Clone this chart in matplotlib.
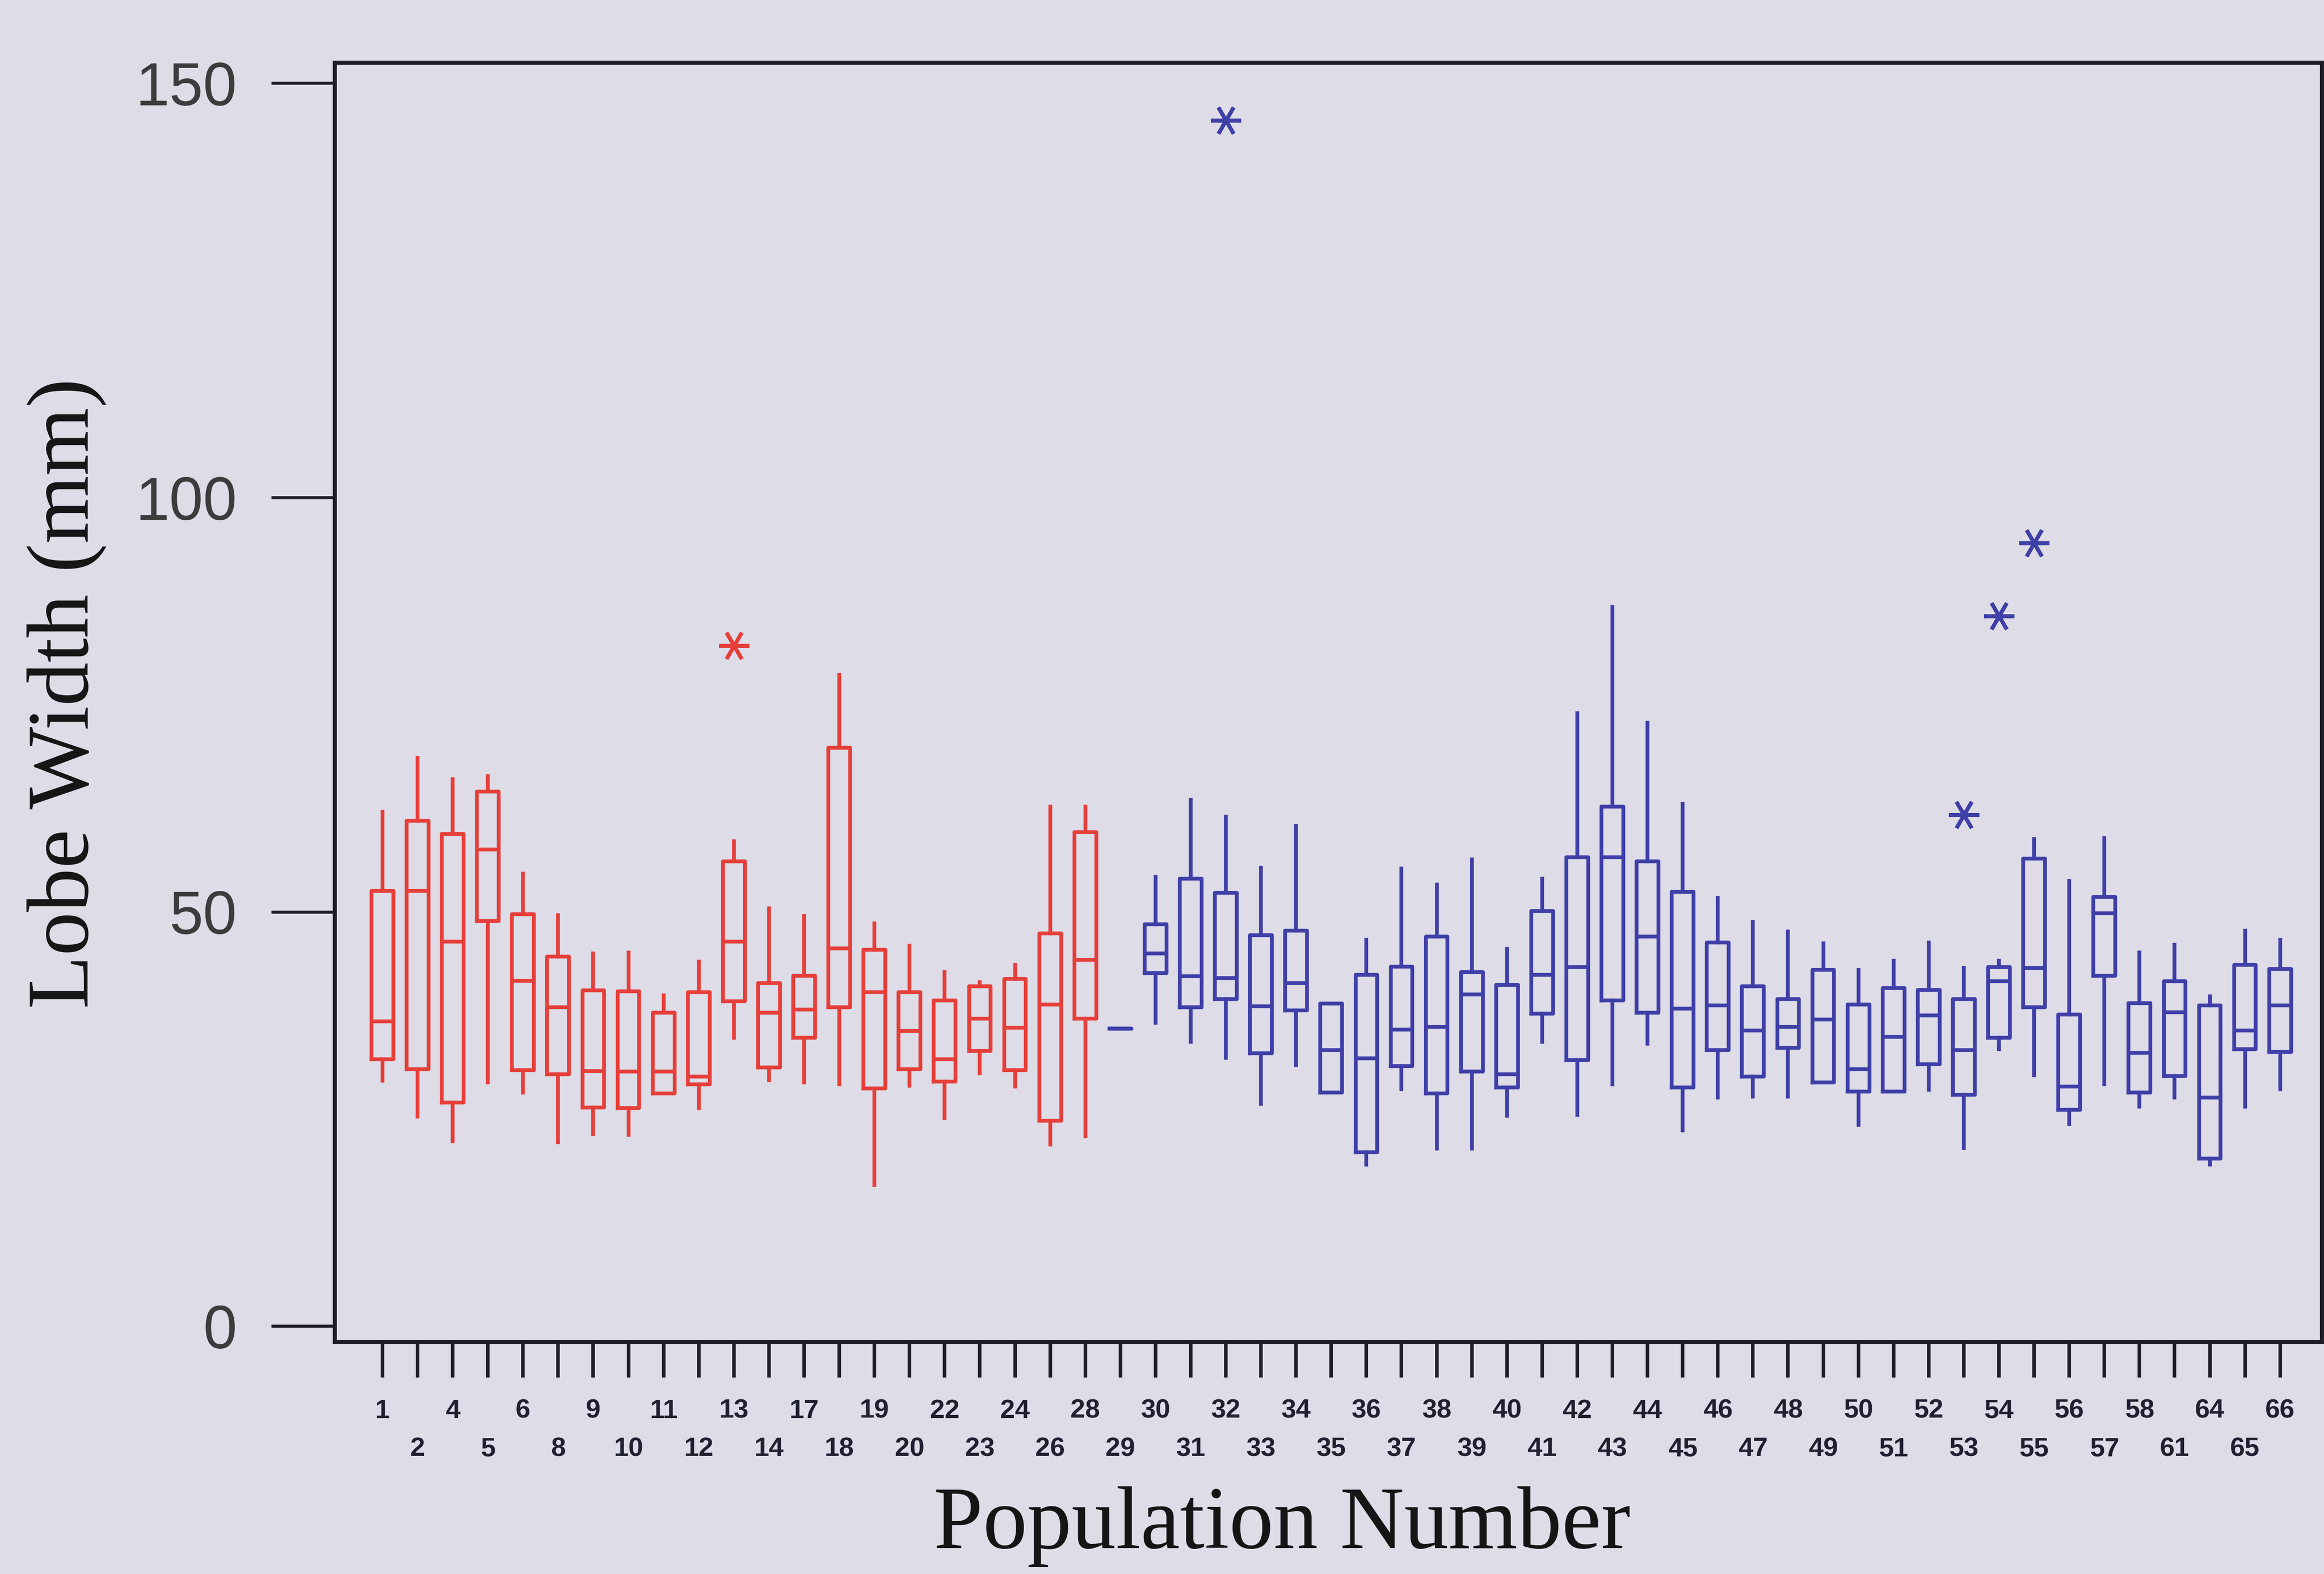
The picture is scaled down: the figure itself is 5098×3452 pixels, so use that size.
import matplotlib.pyplot as plt
import numpy as np

# population numbers along the x axis
pops = [1, 2, 4, 5, 6, 8, 9, 10, 11, 12, 13, 14, 17, 18, 19, 20, 22, 23, 24, 26, 28,
        29, 30, 31, 32, 33, 34, 35, 36, 37, 38, 39, 40, 41, 42, 43, 44, 45, 46, 47,
        48, 49, 50, 51, 52, 53, 54, 55, 56, 57, 58, 61, 64, 65, 66]

# box-plot summaries of lobe width (mm)
whis_lo = [29.6, 25.3, 22.3, 29.4, 28.2, 22.2, 23.2, 23.1, 28.1, 26.3, 34.8, 29.7, 29.4, 29.2,
           17.0, 29.0, 25.1, 30.5, 28.9, 21.9, 22.9,
           35.9, 36.6, 34.3, 32.4, 26.8, 31.5, 28.2, 19.5, 28.6, 21.4, 21.4, 25.4, 34.3, 25.5,
           29.2, 34.1, 23.6, 27.6, 27.7, 27.7, 29.4, 24.3, 28.3, 28.5, 21.5, 33.4, 30.3, 24.4,
           29.2, 26.5, 27.6, 19.5, 26.5, 28.6]
q1 = [32.2, 31.0, 27.0, 48.9, 30.9, 30.4, 26.4, 26.3, 28.1, 29.2, 39.2, 31.2, 34.8, 38.5,
      28.7, 31.0, 29.5, 33.2, 30.9, 24.8, 37.1,
      35.9, 42.6, 38.5, 39.5, 32.9, 38.1, 28.2, 21.0, 31.4, 28.1, 30.7, 28.8, 37.7, 32.1,
      39.3, 37.8, 28.8, 33.3, 30.1, 33.6, 29.4, 28.3, 28.3, 31.6, 27.9, 34.8, 38.5, 26.1,
      42.3, 28.2, 30.2, 20.2, 33.4, 33.1]
med = [36.8, 52.5, 46.4, 57.5, 41.7, 38.5, 30.8, 30.7, 30.7, 30.1, 46.4, 37.8, 38.2, 45.6,
       40.3, 35.6, 32.2, 37.1, 36.0, 38.8, 44.2,
       35.9, 45.0, 42.2, 42.0, 38.6, 41.4, 33.3, 32.3, 35.8, 36.1, 40.0, 30.4, 42.4, 43.3,
       56.6, 47.0, 38.3, 38.7, 35.7, 36.1, 37.0, 31.0, 34.9, 37.5, 33.3, 41.6, 43.2, 28.9,
       49.8, 33.0, 37.9, 27.6, 35.7, 38.7]
q3 = [52.5, 61.0, 59.4, 64.5, 49.7, 44.6, 40.5, 40.4, 37.8, 40.3, 56.1, 41.4, 42.3, 69.8,
      45.4, 40.3, 39.3, 41.0, 41.9, 47.4, 59.6,
      35.9, 48.5, 54.0, 52.3, 47.2, 47.7, 38.9, 42.4, 43.4, 47.0, 42.7, 41.2, 50.1, 56.6,
      62.7, 56.1, 52.4, 46.3, 41.0, 39.5, 43.0, 38.8, 40.8, 40.6, 39.5, 43.3, 56.4, 37.6,
      51.8, 39.0, 41.6, 38.7, 43.6, 43.1]
whis_hi = [62.1, 68.6, 66.0, 66.4, 54.6, 49.6, 45.0, 45.1, 39.9, 44.0, 58.5, 50.4, 49.5, 78.6,
           48.6, 45.9, 42.7, 41.5, 43.6, 62.7, 62.7,
           35.9, 54.2, 63.5, 61.5, 55.3, 60.4, 38.9, 46.6, 55.2, 53.3, 56.3, 45.5, 54.0, 74.0,
           86.8, 72.8, 63.0, 51.7, 48.8, 47.6, 46.2, 43.0, 44.1, 46.3, 43.2, 44.1, 58.8, 53.7,
           58.9, 45.1, 46.0, 39.8, 47.7, 46.6]

# outliers: population -> values
outliers = {13: [82.1], 32: [145.5], 53: [61.7], 54: [85.7], 55: [94.5]}

bg = "#dddce7"
red = "#e63f3a"
blue = "#3f3fa8"
ink = "#1e1e28"

positions = np.arange(len(pops))
stats = []
for i, p in enumerate(pops):
    stats.append(dict(whislo=whis_lo[i], q1=q1[i], med=med[i], q3=q3[i],
                      whishi=whis_hi[i], fliers=outliers.get(p, [])))

fig = plt.figure(figsize=(25.49, 17.26), dpi=200)
fig.patch.set_facecolor(bg)
ax = fig.add_axes([0.1440, 0.1475, 0.8551, 0.8128])
ax.set_facecolor(bg)

red_idx = [i for i, p in enumerate(pops) if p <= 28]
blue_idx = [i for i, p in enumerate(pops) if p > 28]
for idx, col in ((red_idx, red), (blue_idx, blue)):
    line = dict(color=col, linewidth=3.0)
    ax.bxp([stats[i] for i in idx], positions=positions[idx], widths=0.62,
           showcaps=False, manage_ticks=False,
           boxprops=line, whiskerprops=line, medianprops=line,
           flierprops=dict(marker=(6, 2, 90), markersize=24, markeredgecolor=col,
                           markeredgewidth=3.0, linestyle="none"))

ax.set_xlim(-1.36, 55.19)
ax.set_ylim(-1.9, 152.5)

for s in ax.spines.values():
    s.set_color(ink)
    s.set_linewidth(3.2)

ax.set_yticks([0, 50, 100, 150])
ax.tick_params(axis="y", direction="out", length=50, width=2.4, pad=27,
               labelsize=48, labelcolor="#3c3c3c", color=ink)
for lbl in ax.get_yticklabels():
    lbl.set_fontfamily(["Liberation Sans", "DejaVu Sans"])

# labels alternate between two rows
ax.set_xticks(positions[::2], labels=[str(p) for p in pops[::2]])
ax.set_xticks(positions[1::2], labels=[str(p) for p in pops[1::2]], minor=True)
ax.tick_params(axis="x", which="both", direction="out", length=28, width=2.8, color=ink)
ax.tick_params(axis="x", which="major", pad=17)
ax.tick_params(axis="x", which="minor", pad=47)
for lbl in ax.get_xticklabels(which="both"):
    lbl.set_fontfamily(["Liberation Sans", "DejaVu Sans"])
    lbl.set_fontweight("bold")
    lbl.set_fontsize(21)
    lbl.set_color("#202030")

fig.text(0.5516, 0.030, "Population Number", ha="center", va="center",
         family=["Liberation Serif", "DejaVu Serif"], fontsize=70, color="#151515")
fig.text(0.0287, 0.5594, "Lobe Width (mm)", ha="center", va="center", rotation=90,
         family=["Liberation Serif", "DejaVu Serif"], fontsize=69, color="#151515")

fig.savefig("out.png", dpi=200, facecolor=bg)
